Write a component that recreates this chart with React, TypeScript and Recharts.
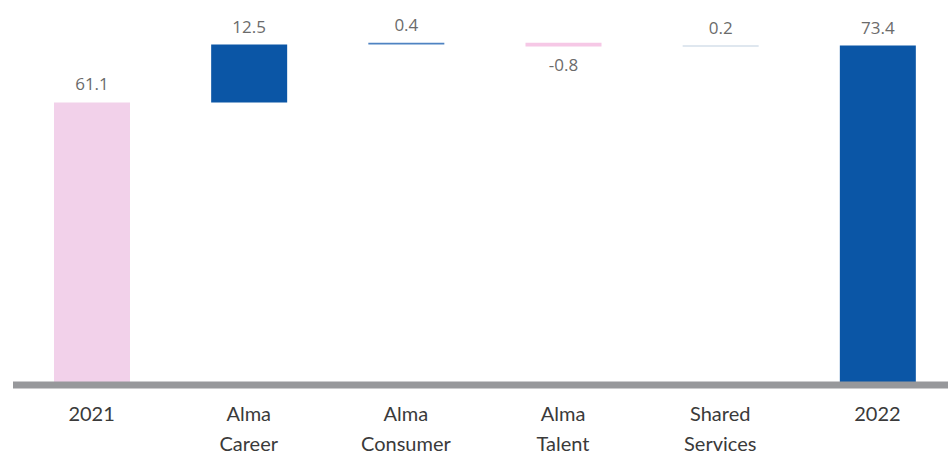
import { BarChart, Bar, XAxis, YAxis, Cell, LabelList } from 'recharts'

const categories = ['2021', 'Alma Career', 'Alma Consumer', 'Alma Talent', 'Shared Services', '2022']
const changes = [61.1, 12.5, 0.4, -0.8, 0.2, 73.4]
const isTotal = [true, false, false, false, false, true]
const fills = ['#f2d1ea', '#0b56a6', '#4f83c2', '#f6c8e6', '#bfcfe0', '#0b56a6']

// running total -> invisible base + visible step for each column
let running = 0
const data = categories.map((name, i) => {
  const v = changes[i]
  if (isTotal[i]) {
    running = v
    return { name, base: 0, step: v, change: v }
  }
  const start = running
  running = start + v
  return { name, base: Math.min(start, running), step: Math.abs(v), change: v }
})

function CategoryTick({ x, y, payload }: any) {
  const words: string[] = String(payload.value).split(' ')
  const lines = words.length > 1 ? [words[0], words.slice(1).join(' ')] : words
  return (
    <text x={x} y={y} textAnchor="middle" fill="#3a3a3a" fontSize={20} fontFamily="Lato, 'Open Sans', sans-serif">
      {lines.map((l, i) => (
        <tspan key={i} x={x} dy={i === 0 ? 28 : 30}>
          {l}
        </tspan>
      ))}
    </text>
  )
}

function StepLabel({ x, y, width, height, index }: any) {
  const v = changes[index]
  const cx = x + width / 2
  const ty = v < 0 ? y + height + 25 : y - 12
  return (
    <text x={cx} y={ty} textAnchor="middle" fill="#6b6b6b" fontSize={17} fontFamily="'Open Sans', sans-serif">
      {v.toFixed(1)}
    </text>
  )
}

export default function App() {
  return (
    <div style={{ width: 948, height: 454, overflow: 'hidden', background: '#fff' }}>
      <style>{'body { margin: 0; }'}</style>
      <BarChart
        width={956}
        height={454}
        data={data}
        margin={{ top: 15, right: 0, left: 13, bottom: 0 }}
        barCategoryGap={0}
      >
        <YAxis hide domain={[0, 80]} />
        <Bar dataKey="base" stackId="w" fill="transparent" isAnimationActive={false} barSize={76} />
        <Bar dataKey="step" stackId="w" isAnimationActive={false} barSize={76}>
          {data.map((d, i) => (
            <Cell key={d.name} fill={fills[i]} />
          ))}
          <LabelList dataKey="change" content={<StepLabel />} />
        </Bar>
        <XAxis
          dataKey="name"
          axisLine={{ stroke: '#97989b', strokeWidth: 7 }}
          tickLine={false}
          tick={<CategoryTick />}
          interval={0}
          height={69}
        />
      </BarChart>
    </div>
  )
}
